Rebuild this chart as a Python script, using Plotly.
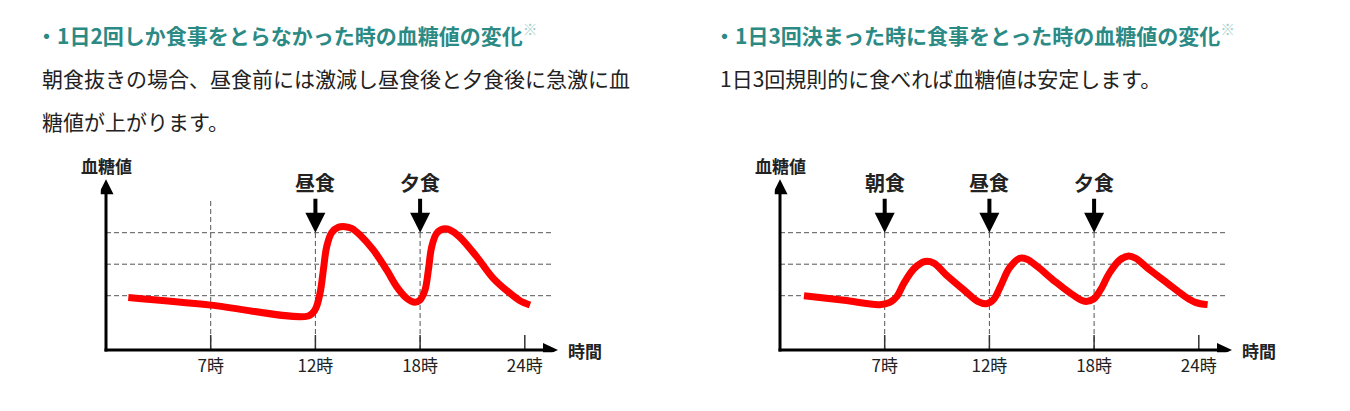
import plotly.graph_objects as go

W, H = 1350, 411
FONT = "Noto Sans CJK JP"

# ---------------- data ----------------
tick_pos = [1, 2, 3, 4]
tick_labels = ["7時", "12時", "18時", "24時"]
grid_levels = [1, 2, 3]
y_label = "血糖値"
x_label = "時間"

left_title = "・1日2回しか食事をとらなかった時の血糖値の変化"
left_body = ["朝食抜きの場合、昼食前には激減し昼食後と夕食後に急激に血", "糖値が上がります。"]
left_meal_pos = [2, 3]
left_meal_labels = ["昼食", "夕食"]
left_x = [0.213, 1.0, 1.932, 1.996, 2.044, 2.076, 2.108, 2.155, 2.219, 2.283, 2.346,
          2.426, 2.553, 2.681, 2.776, 2.872, 2.951, 2.999, 3.047, 3.079, 3.111,
          3.158, 3.222, 3.286, 3.381, 3.540, 3.699, 3.859, 3.954, 4.050]
left_y = [0.94, 0.70, 0.356, 0.546, 1.075, 1.816, 2.557, 3.001, 3.170, 3.191, 3.139,
          2.927, 2.451, 1.816, 1.287, 0.917, 0.790, 0.863, 1.181, 1.816, 2.557,
          2.98, 3.117, 3.086, 2.853, 2.239, 1.551, 1.075, 0.842, 0.705]

right_title = "・1日3回決まった時に食事をとった時の血糖値の変化"
right_body = ["1日3回規則的に食べれば血糖値は安定します。"]
right_meal_pos = [1, 2, 3]
right_meal_labels = ["朝食", "昼食", "夕食"]
right_x = [0.229, 0.614, 0.950, 1.050, 1.117, 1.184, 1.285, 1.386, 1.469, 1.587, 1.754,
           1.888, 1.972, 2.039, 2.106, 2.190, 2.291, 2.358, 2.458, 2.626, 2.794,
           2.911, 2.995, 3.062, 3.146, 3.246, 3.330, 3.397, 3.531, 3.699, 3.866,
           3.967, 4.084]
right_y = [1.0, 0.853, 0.716, 0.789, 0.979, 1.400, 1.874, 2.084, 2.032, 1.663, 1.189,
           0.821, 0.747, 0.874, 1.295, 1.874, 2.189, 2.158, 1.926, 1.453, 1.032,
           0.821, 0.895, 1.189, 1.716, 2.137, 2.263, 2.189, 1.821, 1.400, 0.979,
           0.789, 0.716]

# ---------------- geometry / style ----------------
PX_X = 104.7          # pixels per x unit
PX_Y = 31.5           # pixels per y unit
Y_BASE = -0.724       # value at x-axis line
Y_MIN = Y_BASE - 0.07
Y_MAX = 5.625
X_MIN = -0.05
X_MAX = 4.814
X_TIP = 4.317
Y_TIP = 4.70
AX_BOTTOM_PX = 350
AX_TOP_PX = 150
ORIGINS = [106, 780]
TEAL = "#2b8a84"
TEXT = "#222222"
GRID = "#555555"
HEAD_LEN = 15
HEAD_HALF = 7.5

fig = go.Figure()
panels = [
    (left_x, left_y, left_meal_pos, left_meal_labels, left_title, left_body, 34, 40),
    (right_x, right_y, right_meal_pos, right_meal_labels, right_title, right_body, 712, 718),
]


def tri(p1, p2, p3):
    return "M {},{} L {},{} L {},{} Z".format(p1[0], p1[1], p2[0], p2[1], p3[0], p3[1])


shapes = []
annotations = []
for i, (xs, ys, mpos, mlab, title, body, title_px, body_px) in enumerate(panels):
    sfx = "" if i == 0 else str(i + 1)
    xr, yr = "x" + sfx, "y" + sfx
    org = ORIGINS[i]
    fig.add_trace(go.Scatter(
        x=xs, y=ys, mode="lines", xaxis=xr, yaxis=yr, hoverinfo="skip",
        line=dict(color="#ff0000", width=7, shape="spline", smoothing=1.0),
    ))
    fig.update_layout(**{
        "xaxis" + sfx: dict(
            domain=[(org + X_MIN * PX_X) / W, (org + X_MAX * PX_X) / W], range=[X_MIN, X_MAX],
            tickvals=tick_pos, ticktext=tick_labels, ticks="",
            showgrid=False, zeroline=False, showline=False, fixedrange=True,
            tickfont=dict(family=FONT, size=17, color=TEXT), ticklabelstandoff=2,
            anchor=yr,
        ),
        "yaxis" + sfx: dict(
            domain=[1 - (AX_BOTTOM_PX + (Y_BASE - Y_MIN) * PX_Y) / H, 1 - AX_TOP_PX / H],
            range=[Y_MIN, Y_MAX],
            showticklabels=False, ticks="", showgrid=False, zeroline=False,
            showline=False, fixedrange=True, anchor=xr,
        ),
    })
    # horizontal dashed levels
    for lv in grid_levels:
        shapes.append(dict(type="line", xref=xr, yref=yr, x0=0, x1=4.27, y0=lv, y1=lv,
                           line=dict(color=GRID, width=1, dash="5px,3px"), layer="below"))
    # vertical dashed lines + ticks
    for tp in tick_pos:
        if tp < 4:
            top = 3 if tp in mpos else 4.10
            shapes.append(dict(type="line", xref=xr, yref=yr, x0=tp, x1=tp, y0=Y_BASE, y1=top,
                               line=dict(color=GRID, width=1, dash="5px,3px"), layer="below"))
        shapes.append(dict(type="line", xref=xr, yref=yr, x0=tp, x1=tp, y0=Y_BASE,
                           y1=Y_BASE + 15 / PX_Y, line=dict(color="#333", width=1.5)))
    # axis lines with arrow heads
    shapes.append(dict(type="line", xref=xr, yref=yr, x0=0, x1=0,
                       y0=Y_BASE - 1.5 / PX_Y, y1=Y_TIP - HEAD_LEN / PX_Y + 0.05,
                       line=dict(color="#000", width=3)))
    shapes.append(dict(type="path", xref=xr, yref=yr, fillcolor="#000", line=dict(width=0),
                       path=tri((0, Y_TIP), (-HEAD_HALF / PX_X, Y_TIP - HEAD_LEN / PX_Y),
                                (HEAD_HALF / PX_X, Y_TIP - HEAD_LEN / PX_Y))))
    shapes.append(dict(type="line", xref=xr, yref=yr, x0=-1.5 / PX_X,
                       x1=X_TIP - HEAD_LEN / PX_X + 0.02, y0=Y_BASE, y1=Y_BASE,
                       line=dict(color="#000", width=3)))
    shapes.append(dict(type="path", xref=xr, yref=yr, fillcolor="#000", line=dict(width=0),
                       path=tri((X_TIP, Y_BASE), (X_TIP - HEAD_LEN / PX_X, Y_BASE + 7 / PX_Y),
                                (X_TIP - HEAD_LEN / PX_X, Y_BASE - 7 / PX_Y))))
    annotations.append(dict(xref=xr, yref=yr, x=0, y=5.12, text=y_label, showarrow=False,
                            font=dict(family=FONT, size=17, color=TEXT, weight="bold")))
    annotations.append(dict(xref=xr, yref=yr, x=4.39, y=Y_BASE, text=x_label, showarrow=False,
                            xanchor="left", font=dict(family=FONT, size=17, color=TEXT, weight="bold")))
    # meal arrows
    for mp, ml in zip(mpos, mlab):
        annotations.append(dict(xref=xr, yref=yr, x=mp, y=3, ax=0, ay=-50, text=ml,
                                showarrow=True, arrowhead=2, arrowsize=1, arrowwidth=4,
                                arrowcolor="#000", standoff=0,
                                font=dict(family=FONT, size=20, color=TEXT, weight="bold")))
    # title and body
    annotations.append(dict(xref="paper", yref="paper", x=title_px / W, y=1 - 34 / H,
                            xanchor="left", yanchor="middle", showarrow=False,
                            text=title + "<sup><span style='color:#a3cfcb'>※</span></sup>",
                            font=dict(family=FONT, size=21, color=TEAL, weight="bold")))
    for j, line in enumerate(body):
        annotations.append(dict(xref="paper", yref="paper", x=body_px / W, y=1 - (78 + 43 * j) / H,
                                xanchor="left", yanchor="middle", showarrow=False, text=line,
                                font=dict(family=FONT, size=21, color=TEXT)))

fig.update_layout(
    width=W, height=H, margin=dict(l=0, r=0, t=0, b=0),
    paper_bgcolor="white", plot_bgcolor="white", showlegend=False,
    shapes=shapes, annotations=annotations,
)
fig.write_html("out.html")
